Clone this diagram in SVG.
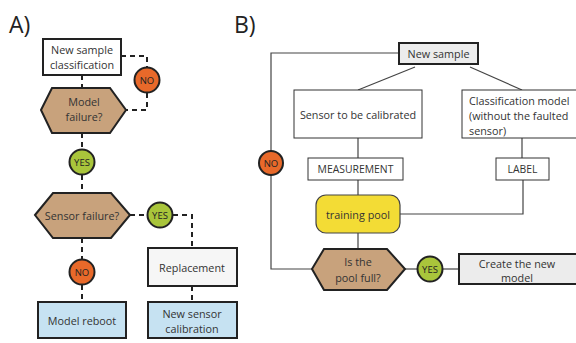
<svg xmlns="http://www.w3.org/2000/svg" width="576" height="343" viewBox="0 0 576 343">
<style>
text{font-family:"Open Sans","Noto Sans",sans-serif;fill:#333;text-anchor:middle;dominant-baseline:central}
.t{font-size:10.8px}
.s{font-size:10.4px}
.big{font-size:23px;text-anchor:start;fill:#222}
.dash{fill:none;stroke:#222;stroke-width:2;stroke-dasharray:5,4}
.ln{fill:none;stroke:#444;stroke-width:1.2}
.boxA{stroke:#222;stroke-width:2}
.boxB{fill:#fff;stroke:#333;stroke-width:1}
.hex{fill:#c8a27c;stroke:#222;stroke-width:2}
.no{fill:#e8692a;stroke:#222;stroke-width:2}
.yes{fill:#a9c53b;stroke:#222;stroke-width:2}
.ct{font-size:9.5px;fill:#222}
</style>
<text class="big" x="9" y="24">A)</text>
<text class="big" x="234" y="24">B)</text>

<g id="connectors">
  <!-- A -->
  <path class="dash" d="M82,75 V88"/>
  <path class="dash" d="M121,56 H147 V67"/>
  <path class="dash" d="M147,93 V110 H126"/>
  <path class="dash" d="M82,133 V149"/>
  <path class="dash" d="M82,175 V193"/>
  <path class="dash" d="M130,215 H147"/>
  <path class="dash" d="M173,215 H192 V248"/>
  <path class="dash" d="M82,238 V259"/>
  <path class="dash" d="M82,285 V302"/>
  <path class="dash" d="M192,286 V302"/>
  <!-- B -->
  <path class="ln" d="M399,53 H271 V151"/>
  <path class="ln" d="M271,175 V269 H312"/>
  <path class="ln" d="M415,67 L358,90"/>
  <path class="ln" d="M470,67 L522,90"/>
  <path class="ln" d="M358,138 V158"/>
  <path class="ln" d="M522,138 V158"/>
  <path class="ln" d="M358,180 V195"/>
  <path class="ln" d="M400,214 H523 V180"/>
  <path class="ln" d="M358,233 V249"/>
  <path class="ln" d="M405,269 H417"/>
  <path class="ln" d="M443,269 H459"/>
</g>

<!-- A nodes -->
<g id="a-new-sample">
  <rect class="boxA" x="43" y="39" width="78" height="36" fill="#fff"/>
  <text class="t" x="82" y="49">New sample</text>
  <text class="t" x="82" y="64">classification</text>
</g>
<g id="a-model-failure">
  <polygon class="hex" points="41,110 52,88 110,88 126,110 110,133 52,133"/>
  <text class="t" x="84" y="101">Model</text>
  <text class="t" x="84" y="116">failure?</text>
</g>
<g id="a-no1">
  <circle class="no" cx="147" cy="80" r="12.5"/>
  <text class="ct" x="147" y="80">NO</text>
</g>
<g id="a-yes1">
  <circle class="yes" cx="82" cy="162" r="12.5"/>
  <text class="ct" x="82" y="162">YES</text>
</g>
<g id="a-sensor-failure">
  <polygon class="hex" points="35,215 53,193 111,193 130,215 111,238 53,238"/>
  <text class="t" x="82" y="215">Sensor failure?</text>
</g>
<g id="a-yes2">
  <circle class="yes" cx="160" cy="215" r="12.5"/>
  <text class="ct" x="160" y="215">YES</text>
</g>
<g id="a-no2">
  <circle class="no" cx="82" cy="272" r="12.5"/>
  <text class="ct" x="82" y="272">NO</text>
</g>
<g id="a-replacement">
  <rect class="boxA" x="148" y="248" width="89" height="38" fill="#f6f6f6"/>
  <text class="t" x="192" y="267">Replacement</text>
</g>
<g id="a-model-reboot">
  <rect class="boxA" x="38" y="302" width="88" height="36" fill="#c6e2f2"/>
  <text class="t" x="82" y="320">Model reboot</text>
</g>
<g id="a-new-sensor-calibration">
  <rect class="boxA" x="148" y="302" width="89" height="36" fill="#c6e2f2"/>
  <text class="t" x="192" y="313">New sensor</text>
  <text class="t" x="192" y="328">calibration</text>
</g>

<!-- B nodes -->
<g id="b-new-sample">
  <rect x="399" y="43" width="79" height="21" fill="#ececec" stroke="#222" stroke-width="2"/>
  <text class="t" x="438.5" y="53.5">New sample</text>
</g>
<g id="b-sensor">
  <rect class="boxB" x="294" y="90" width="128" height="48"/>
  <text class="t" x="358" y="114">Sensor to be calibrated</text>
</g>
<g id="b-classification">
  <rect class="boxB" x="462" y="90" width="120" height="48"/>
  <text class="t" x="469" y="100" style="text-anchor:start">Classification model</text>
  <text class="t" x="469" y="115" style="text-anchor:start">(without the faulted</text>
  <text class="t" x="469" y="130" style="text-anchor:start">sensor)</text>
</g>
<g id="b-measurement">
  <rect class="boxB" x="308" y="158" width="95" height="22"/>
  <text class="s" x="355.5" y="169">MEASUREMENT</text>
</g>
<g id="b-label">
  <rect class="boxB" x="496" y="158" width="53" height="22"/>
  <text class="s" x="522.5" y="169">LABEL</text>
</g>
<g id="b-no">
  <circle class="no" cx="271" cy="163" r="12"/>
  <text class="ct" x="271" y="163">NO</text>
</g>
<g id="b-training-pool">
  <rect x="316" y="195" width="84" height="38" rx="10" fill="#f3dc35" stroke="#444" stroke-width="1.2"/>
  <text class="t" x="358" y="214">training pool</text>
</g>
<g id="b-pool-full">
  <polygon class="hex" points="312,269 324,249 387,249 405,269 387,290 324,290"/>
  <text class="t" x="358" y="261">Is the</text>
  <text class="t" x="358" y="277">pool full?</text>
</g>
<g id="b-yes">
  <circle class="yes" cx="430" cy="269" r="12.5"/>
  <text class="ct" x="430" y="269">YES</text>
</g>
<g id="b-create">
  <rect x="459" y="254" width="118" height="30" fill="#ececec" stroke="#222" stroke-width="2"/>
  <text class="t" x="517" y="263">Create the new</text>
  <text class="t" x="517" y="277">model</text>
</g>
</svg>
